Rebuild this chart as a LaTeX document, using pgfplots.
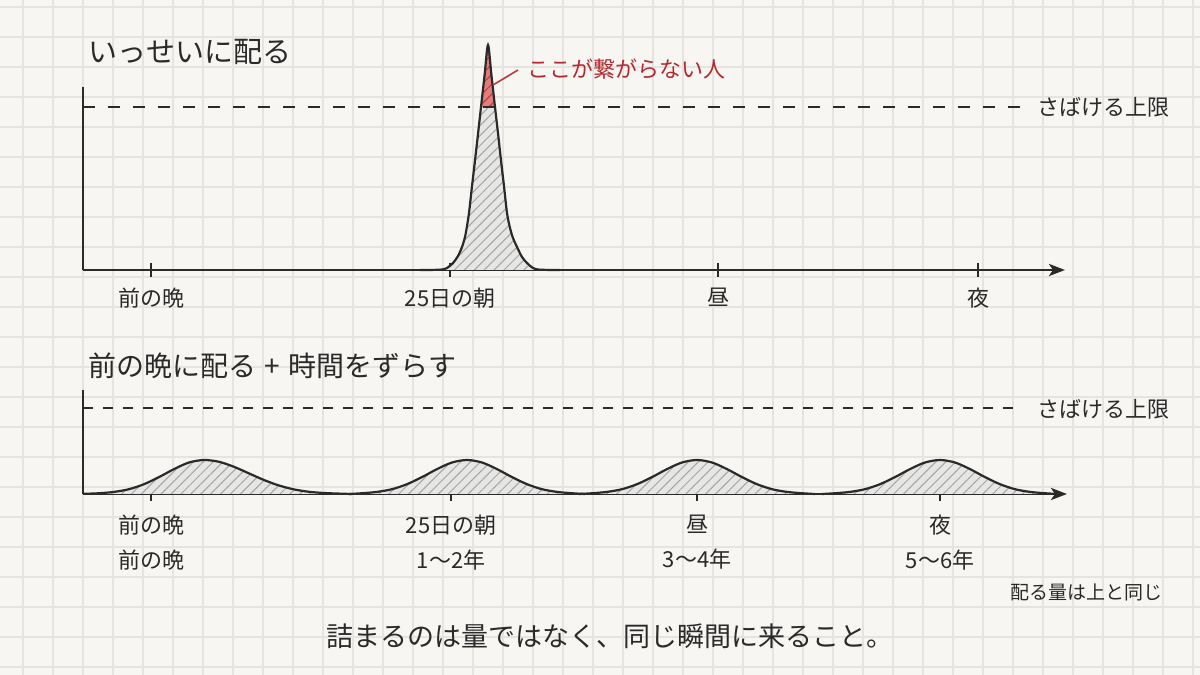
\documentclass[border=0pt]{standalone}
\usepackage{fontspec}
\setmainfont{Noto Sans CJK JP}
\usepackage{pgfplots}
\pgfplotsset{compat=1.18}
\usepackage{pgfplotstable}
\usetikzlibrary{arrows.meta,patterns.meta}
\definecolor{paper}{HTML}{F7F6F3}
\definecolor{gridc}{HTML}{E5E4E0}
\definecolor{ink}{HTML}{2A2A2A}
\definecolor{hatchfill}{HTML}{E6E6E4}
\definecolor{hatchline}{HTML}{A4A4A4}
\definecolor{redfill}{HTML}{E27D7D}
\definecolor{redline}{HTML}{BE3636}
\definecolor{redtext}{HTML}{B3282D}
\newcommand{\pxy}[2]{({#1*0.5pt},{(675-#2)*0.5pt})}

% single spike (x in px along the time axis, y = height above baseline)
\pgfplotstableread{
x y
420 0
440 0.3
447 2
453 7
458 14
462 23
465 33
467 44
469 57
471.8 82
474.7 107
477.9 135
481 163
484.6 195
488 225
491.4 195
495 163
498.2 135
501.3 107
504.2 82
507 57
510 42
513 32
517 23
522 13
527 7
533 2
540 0.3
560 0
}\peak

% part of the spike above the limit
\pgfplotstableread{
x y
481 163
484.6 195
488 225
491.4 195
495 163
}\peaktop

\pgfplotstableread{
x y
84 0.2
99 0.75
114 2.1
129 4.8
144 9.8
159 16.9
174 24.9
189 31.5
204 34
219 32.2
234 27.2
249 20.6
264 14.0
279 8.5
294 4.6
309 2.2
324 1.0
339 0.4
352 0
}\bumpA

\pgfplotstableread{
x y
349 0
362 0.75
377 2.1
392 4.8
407 9.8
422 16.9
437 24.9
452 31.5
467 34
482 31.5
497 24.9
512 16.9
527 9.8
542 4.8
557 2.1
572 0.75
585 0
}\bumpB

\pgfplotstableread{
x y
579 0
592 0.75
607 2.1
622 4.8
637 9.8
652 16.9
667 24.9
682 31.5
697 34
712 31.5
727 24.9
742 16.9
757 9.8
772 4.8
787 2.1
802 0.75
815 0
}\bumpC

\pgfplotstableread{
x y
822 0
835 0.75
850 2.1
865 4.8
880 9.8
895 16.9
910 24.9
925 31.5
940 34
955 31.5
970 24.9
985 16.9
1000 9.8
1015 4.8
1030 2.1
1045 0.75
1058 0
}\bumpD

\pgfplotsset{
  hatch/.style={pattern={Lines[angle=45,distance=3.5pt,line width=0.5pt]}, pattern color=hatchline, draw=none},
  redhatch/.style={pattern={Lines[angle=45,distance=3.5pt,line width=0.5pt]}, pattern color=redline, draw=none},
  panel/.style={
    anchor=south west, scale only axis, clip=false,
    axis lines=left, axis line style={ink, line width=1.45pt},
    x axis line style={-{Stealth[length=8pt,width=6pt,inset=2pt]}},
    y axis line style={-},
    ytick=\empty, xtick align=center, major tick length=7pt,
    tick style={ink, line width=0.9pt},
  },
}

\begin{document}
\begin{tikzpicture}
\path[use as bounding box, fill=paper] (0,0) rectangle (600pt,337.5pt);

% background grid paper
\begin{axis}[at={(0,0)}, anchor=south west, width=600pt, height=337.5pt, scale only axis,
  xmin=0, xmax=1200, ymin=0, ymax=675,
  xtick={23,53,...,1193}, ytick={8,38,...,668},
  grid=major, grid style={gridc, line width=0.55pt},
  axis line style={draw=none}, major tick length=0pt,
  xticklabels={}, yticklabels={}]
\addplot[draw=none] coordinates {(0,0)};
\end{axis}

% ---------- panel 1 ----------
\begin{axis}[panel, at={(41.5pt,202.5pt)}, width=491pt, height=91.5pt,
  xmin=83, xmax=1065, ymin=0, ymax=183,
  xtick={151,450,718,978}, xticklabels={前の晩,25日の朝,昼,夜},
  xticklabel style={font=\fontsize{11pt}{13pt}\selectfont, text=ink, yshift=-2pt}]
\addplot[fill=hatchfill, draw=none, smooth, tension=0.5] table {\peak} \closedcycle;
\addplot[hatch, smooth, tension=0.5] table {\peak} \closedcycle;
\addplot[fill=redfill, draw=none] table {\peaktop} -- cycle;
\addplot[redhatch] table {\peaktop} -- cycle;
\addplot[ink, line width=1.1pt, smooth, tension=0.5] table {\peak};
\addplot[ink, line width=1pt, dash pattern=on 6pt off 6.5pt] coordinates {(83,163) (1030,163)};
\draw[redline, line width=0.8pt] (axis cs:493,185) -- (axis cs:518,200);
\node[anchor=west, text=redtext, font=\fontsize{11pt}{13pt}\selectfont, inner sep=0] at (axis cs:527,201) {ここが繋がらない人};
\node[anchor=west, text=ink, font=\fontsize{11pt}{13pt}\selectfont, inner sep=0] at (axis cs:1037,163) {さばける上限};
\end{axis}

% ---------- panel 2 ----------
\begin{axis}[panel, at={(41.5pt,90.5pt)}, width=492pt, height=52pt,
  xmin=83, xmax=1067, ymin=0, ymax=104,
  xtick={151,451,697,940},
  xticklabels={{前の晩\\前の晩},{25日の朝\\1～2年},{昼\\3～4年},{夜\\5～6年}},
  xticklabel style={font=\fontsize{11pt}{17.5pt}\selectfont, text=ink, align=center, yshift=-3.5pt}]
\addplot[fill=hatchfill, draw=none, smooth] table {\bumpA} \closedcycle;
\addplot[hatch, smooth] table {\bumpA} \closedcycle;
\addplot[ink, line width=1.1pt, smooth] table {\bumpA};
\addplot[fill=hatchfill, draw=none, smooth] table {\bumpB} \closedcycle;
\addplot[hatch, smooth] table {\bumpB} \closedcycle;
\addplot[ink, line width=1.1pt, smooth] table {\bumpB};
\addplot[fill=hatchfill, draw=none, smooth] table {\bumpC} \closedcycle;
\addplot[hatch, smooth] table {\bumpC} \closedcycle;
\addplot[ink, line width=1.1pt, smooth] table {\bumpC};
\addplot[fill=hatchfill, draw=none, smooth] table {\bumpD} \closedcycle;
\addplot[hatch, smooth] table {\bumpD} \closedcycle;
\addplot[ink, line width=1.1pt, smooth] table {\bumpD};
\addplot[ink, line width=1pt, dash pattern=on 5pt off 5pt] coordinates {(83,86) (1015,86)};
\node[anchor=west, text=ink, font=\fontsize{11pt}{13pt}\selectfont, inner sep=0] at (axis cs:1037,85) {さばける上限};
\end{axis}

% ---------- titles and notes ----------
\node[anchor=west, text=ink, font=\fontsize{14.5pt}{16pt}\selectfont, inner sep=0] at \pxy{88}{52} {いっせいに配る};
\node[anchor=west, text=ink, font=\fontsize{14pt}{16pt}\selectfont, inner sep=0] at \pxy{88}{366} {前の晩に配る\hspace{0.3em}+\hspace{0.3em}時間をずらす};
\node[text=ink, font=\fontsize{9.5pt}{11pt}\selectfont, inner sep=0] at \pxy{1086}{592} {配る量は上と同じ};
\node[text=ink, font=\fontsize{13.5pt}{15pt}\selectfont, inner sep=0] at \pxy{610}{636} {詰まるのは量ではなく、同じ瞬間に来ること。};
\end{tikzpicture}
\end{document}
